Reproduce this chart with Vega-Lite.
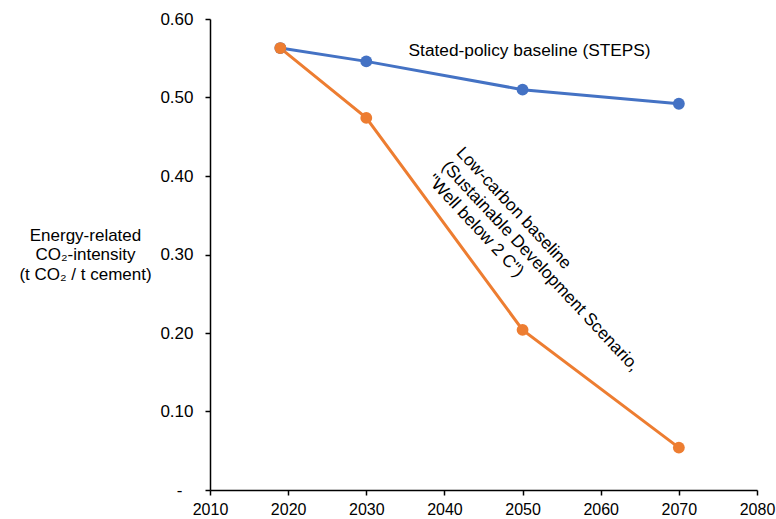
{
  "$schema": "https://vega.github.io/schema/vega-lite/v6.json",
  "autosize": {"type": "none"},
  "padding": {"left": 210, "top": 19, "right": 19, "bottom": 29},
  "width": 547,
  "height": 471,
  "background": "white",
  "config": {
    "view": {"stroke": null},
    "font": "Liberation Sans",
    "axis": {"grid": false, "domainColor": "black", "tickColor": "black", "labelColor": "black", "titleColor": "black", "labelFont": "Liberation Sans", "titleFont": "Liberation Sans", "labelFlush": false, "domainWidth": 1.5, "tickWidth": 1.5, "tickSize": 5}
  },
  "datasets": {
    "series": [
      {"scenario": "STEPS", "year": 2019, "value": 0.563},
      {"scenario": "STEPS", "year": 2030, "value": 0.546},
      {"scenario": "STEPS", "year": 2050, "value": 0.510},
      {"scenario": "STEPS", "year": 2070, "value": 0.492},
      {"scenario": "SDS", "year": 2019, "value": 0.563},
      {"scenario": "SDS", "year": 2030, "value": 0.474},
      {"scenario": "SDS", "year": 2050, "value": 0.204},
      {"scenario": "SDS", "year": 2070, "value": 0.054}
    ],
    "label1": [
      {"year": 2050.9, "value": 0.559, "label": "Stated-policy baseline (STEPS)"}
    ],
    "label2": [
      {"year": 2041.9, "value": 0.433, "label": "Low-carbon baseline\n(Sustainable Development Scenario,\n\"Well below 2 C\")"}
    ]
  },
  "layer": [
    {
      "data": {"name": "series"},
      "mark": {"type": "line", "strokeWidth": 3, "point": {"filled": true, "size": 140, "opacity": 1}},
      "encoding": {
        "x": {"field": "year", "type": "quantitative", "scale": {"domain": [2010, 2080], "nice": false, "zero": false},
          "axis": {"title": null, "values": [2010, 2020, 2030, 2040, 2050, 2060, 2070, 2080], "format": "d", "labelPadding": 6, "labelFontSize": 16}},
        "y": {"field": "value", "type": "quantitative", "scale": {"domain": [0, 0.6], "nice": false},
          "axis": {"values": [0, 0.1, 0.2, 0.3, 0.4, 0.5, 0.6], "labelExpr": "datum.value == 0 ? '-' : format(datum.value, '.2f')",
            "labelPadding": {"condition": {"test": "datum.value == 0", "value": 23}, "value": 12}, "labelFontSize": 17,
            "title": ["Energy-related", "CO₂-intensity", "(t CO₂ / t cement)"], "titleAngle": 0, "titleAlign": "center", "titleBaseline": "top", "titleX": -125, "titleY": 208, "titleFontSize": 17, "titleFontWeight": "normal", "titleLineHeight": 19.5}},
        "color": {"field": "scenario", "type": "nominal", "scale": {"domain": ["STEPS", "SDS"], "range": ["#4472C4", "#ED7D31"]}, "legend": null},
        "order": {"field": "year", "type": "quantitative"}
      }
    },
    {
      "data": {"name": "label1"},
      "mark": {"type": "text", "fontSize": 17.3, "align": "center", "baseline": "middle", "color": "black"},
      "encoding": {
        "x": {"field": "year", "type": "quantitative"},
        "y": {"field": "value", "type": "quantitative"},
        "text": {"field": "label"}
      }
    },
    {
      "data": {"name": "label2"},
      "mark": {"type": "text", "fontSize": 17.3, "align": "left", "baseline": "middle", "angle": 47, "lineBreak": "\n", "lineHeight": 20, "color": "black"},
      "encoding": {
        "x": {"field": "year", "type": "quantitative"},
        "y": {"field": "value", "type": "quantitative"},
        "text": {"field": "label"}
      }
    }
  ]
}
